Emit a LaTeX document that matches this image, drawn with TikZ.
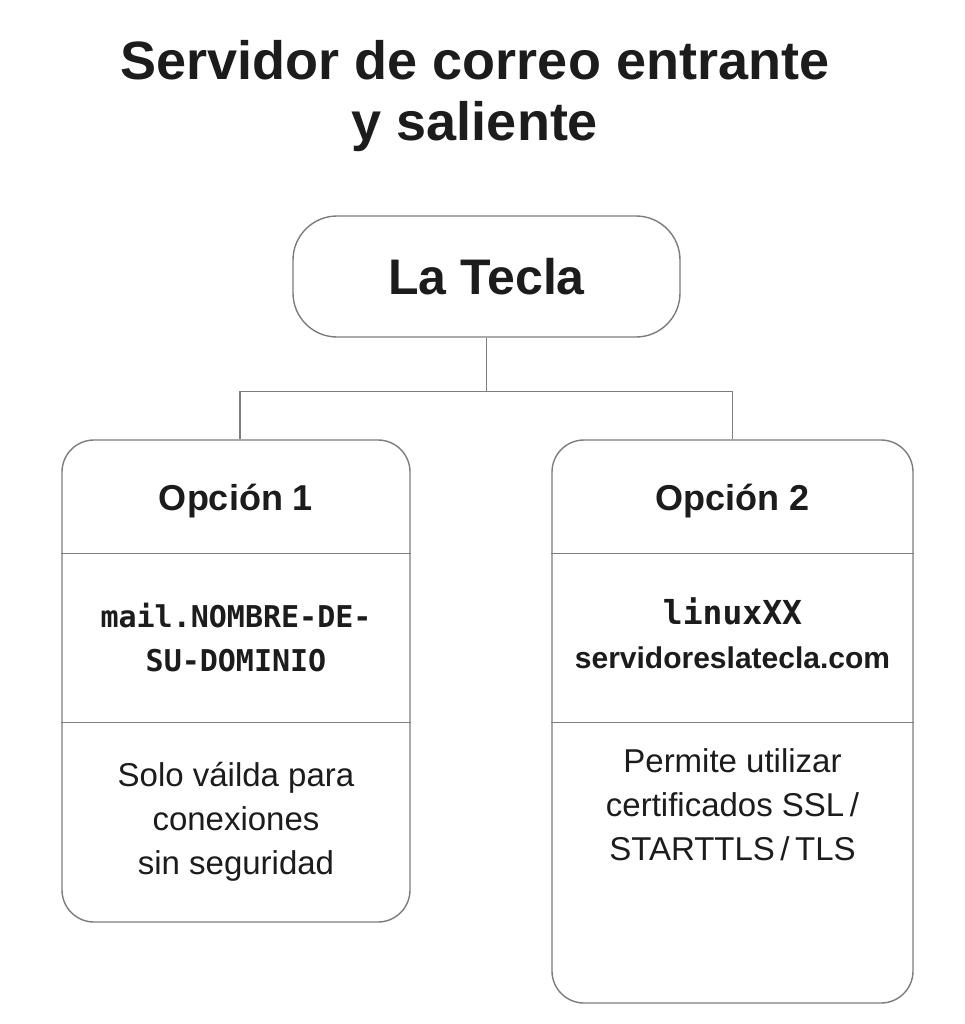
\documentclass[tikz,border=0pt]{standalone}
\usepackage{fontspec}
\setmainfont{Liberation Sans}
\setmonofont{DejaVu Sans Mono}
\usepackage{xcolor}
\definecolor{ink}{RGB}{28,28,28}
\definecolor{edgegray}{RGB}{125,125,125}
\usetikzlibrary{positioning}
\newcommand{\headrow}{114pt}
\newcommand{\midrow}{283pt}
\tikzset{
    common/.style={text=ink, align=center, inner sep=0pt},
    title/.style={common, font=\fontsize{54}{61}\selectfont\bfseries},
    root/.style={common, draw=edgegray, line width=1.4pt, rounded corners=44pt,
        minimum width=387pt, minimum height=121pt, font=\fontsize{50}{60}\selectfont\bfseries},
    optbox/.style={draw=edgegray, line width=1.4pt, rounded corners=32pt},
    head/.style={common, font=\fontsize{36}{44}\selectfont\bfseries},
    code/.style={common, font=\fontsize{30}{44}\selectfont\ttfamily\bfseries},
    host/.style={common, font=\fontsize{30}{44}\selectfont\bfseries},
    body/.style={common, font=\fontsize{33}{44}\selectfont},
    link/.style={draw=edgegray, line width=1.4pt},
    rule/.style={draw=edgegray, line width=1.2pt}
}
\begin{document}
\begin{tikzpicture}[x=1pt, y=1pt]
    \useasboundingbox[fill=white] (0,0) rectangle (965,-1024);

    \node[title] (title) at (475,-96) {Servidor de correo entrante\\y saliente};
    \node[root] (root) at (486.5,-276.5) {La Tecla};

    \node[optbox, minimum width=348pt, minimum height=482pt] (opt1) at (236,-681) {};
    \node[optbox, minimum width=361pt, minimum height=563pt] (opt2) at (732.5,-721.5) {};

    \foreach \opt in {opt1, opt2}
        \foreach \row in {\headrow, \midrow}
            \draw[rule] ([yshift=-\row]\opt.north west) -- ([yshift=-\row]\opt.north east);

    \draw[link] (root.south) -- ++(0,-54) coordinate (fork) -| ([xshift=4pt]opt1.north);
    \draw[link] (fork) -| (opt2.north);

    \node[head] (head1) at (236,-501) {Opción 1};
    \node[code] (host1) at (236,-638) {mail.NOMBRE-DE-\\SU-DOMINIO};
    \node[body] (note1) at (236,-822) {Solo váilda para\\conexiones\\sin seguridad};

    \node[head] (head2) at (732.5,-501) {Opción 2};
    \node[host] (host2) at (732.5,-633) {{\ttfamily\fontsize{33}{44}\selectfont linuxXX}\\servidoreslatecla.com};
    \node[body] (note2) at (732.5,-805) {Permite utilizar\\certificados SSL\,/\\STARTTLS\,/\,TLS};
\end{tikzpicture}
\end{document}
